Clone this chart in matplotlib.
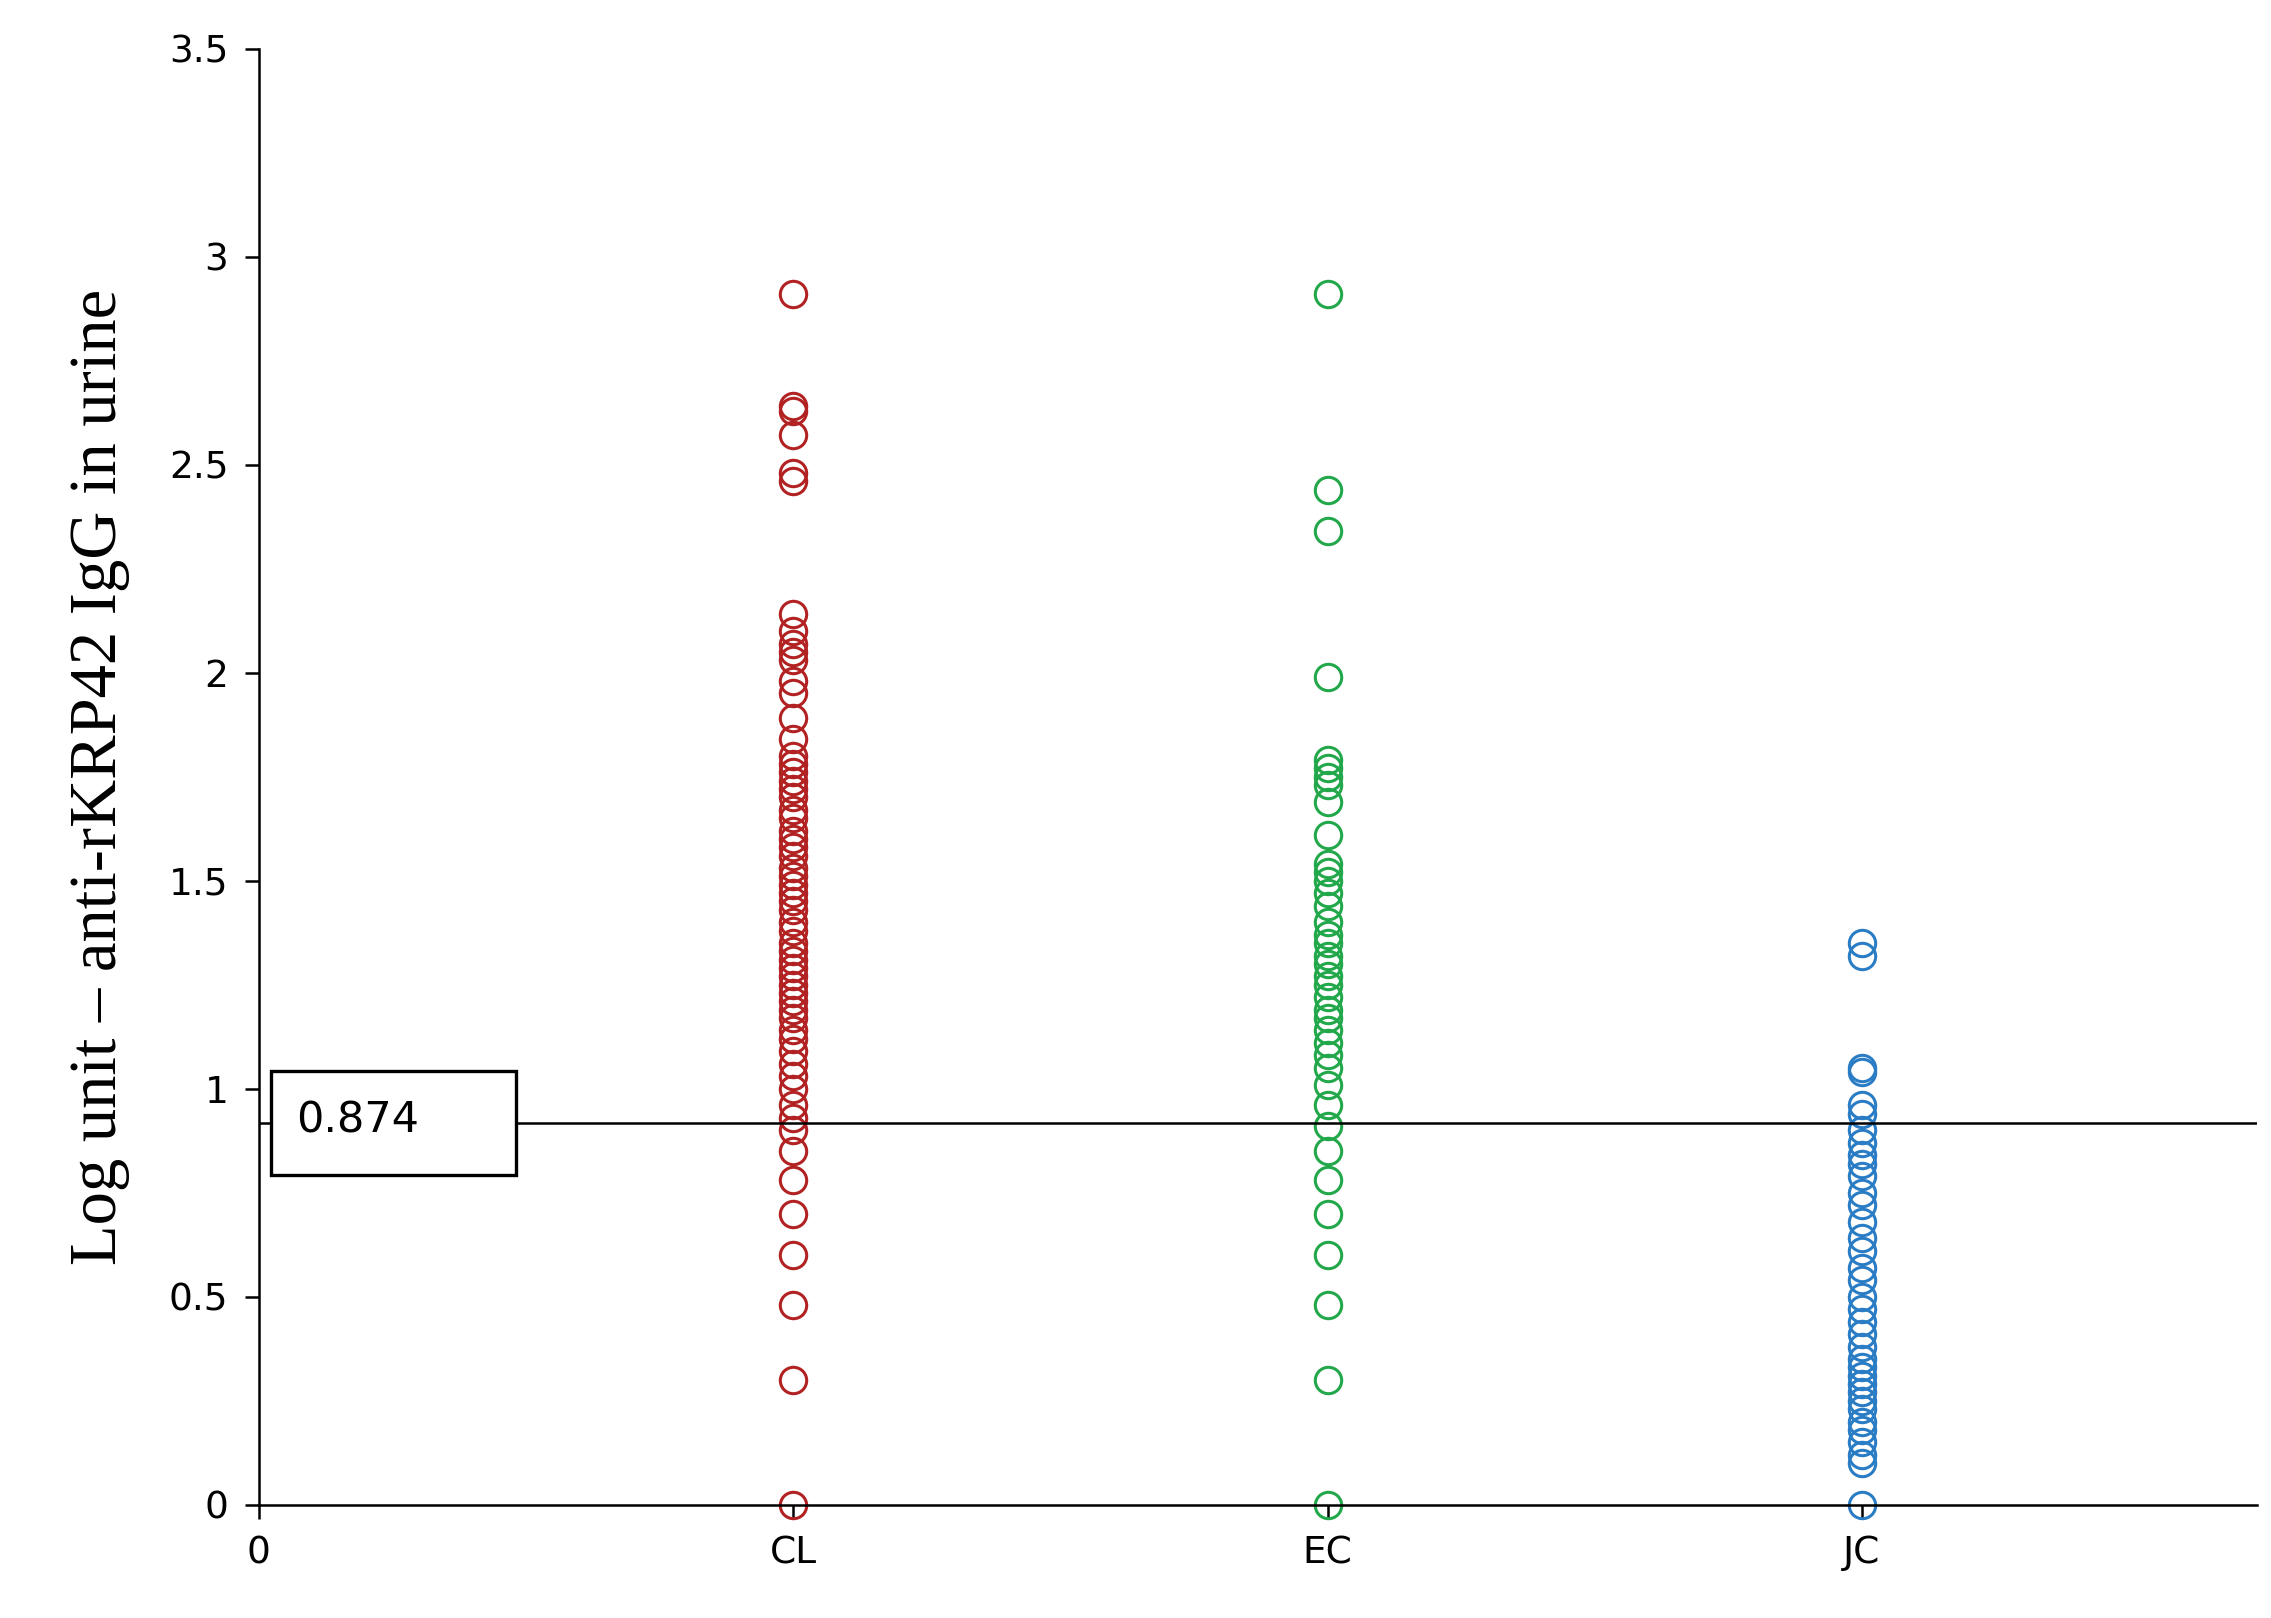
import matplotlib
matplotlib.use("Agg")
import matplotlib.pyplot as plt
from matplotlib.patches import Rectangle

categories = ["CL", "EC", "JC"]
colors = ["#b22222", "#22a84a", "#2a7dc4"]
cl_vals = [2.91, 2.64, 2.63, 2.57, 2.48, 2.46, 2.14, 2.10, 2.07, 2.05, 2.03, 1.98, 1.95, 1.89, 1.84,
           1.80, 1.78, 1.76, 1.74, 1.72, 1.70, 1.67, 1.65, 1.62, 1.60, 1.58, 1.56, 1.53, 1.51, 1.49,
           1.47, 1.45, 1.43, 1.40, 1.38, 1.35, 1.33, 1.31, 1.29, 1.27, 1.25, 1.23, 1.21, 1.19, 1.17,
           1.14, 1.12, 1.09, 1.06, 1.03, 1.00, 0.96, 0.93, 0.90, 0.85, 0.78, 0.70, 0.60, 0.48, 0.30, 0.0]
ec_vals = [2.91, 2.44, 2.34, 1.99, 1.79, 1.77, 1.75, 1.73, 1.69, 1.61, 1.54, 1.52, 1.50, 1.47, 1.44,
           1.40, 1.37, 1.35, 1.32, 1.30, 1.27, 1.25, 1.22, 1.19, 1.17, 1.14, 1.11, 1.08, 1.05, 1.01,
           0.96, 0.91, 0.85, 0.78, 0.70, 0.60, 0.48, 0.30, 0.0]
jc_vals = [1.35, 1.32, 1.05, 1.04, 0.96, 0.94, 0.90, 0.87, 0.84, 0.82, 0.79, 0.75, 0.72, 0.68, 0.64,
           0.61, 0.57, 0.54, 0.50, 0.47, 0.44, 0.41, 0.38, 0.35, 0.33, 0.31, 0.29, 0.27, 0.25, 0.23,
           0.20, 0.18, 0.15, 0.12, 0.10, 0.0]
cutoff_label = "0.874"
cutoff_line = 0.918

fig = plt.figure(figsize=(22.71, 16.18), dpi=100)
ax = fig.add_axes([0.114, 0.070, 0.880, 0.900])
for i, (vals, c) in enumerate(zip([cl_vals, ec_vals, jc_vals], colors)):
    ax.plot([i + 1] * len(vals), vals, 'o', mfc='none', mec=c, ms=19, mew=2.2, clip_on=False)
ax.axhline(cutoff_line, color='black', lw=1.8)
ax.add_patch(Rectangle((0.022, 0.792), 0.46, 0.25, fc='white', ec='black', lw=2.4, zorder=5))
ax.text(0.07, cutoff_line + 0.005, cutoff_label, fontsize=31, va='center', ha='left',
        family='DejaVu Sans', zorder=6)
ax.set_xlim(0, 3.74)
ax.set_ylim(0, 3.5)
ax.set_xticks([0, 1, 2, 3])
ax.set_xticklabels(["0"] + categories)
ax.set_yticks([0, 0.5, 1, 1.5, 2, 2.5, 3, 3.5])
ax.set_yticklabels(["0", "0.5", "1", "1.5", "2", "2.5", "3", "3.5"])
ax.tick_params(labelsize=27, width=1.8, length=10, pad=12)
for s in ["top", "right"]:
    ax.spines[s].set_visible(False)
for s in ["left", "bottom"]:
    ax.spines[s].set_linewidth(1.8)
ax.set_ylabel("Log unit \u2013 anti-rKRP42 IgG in urine", family="Liberation Serif", fontsize=48, labelpad=28)
fig.savefig("out.png", dpi=100)
